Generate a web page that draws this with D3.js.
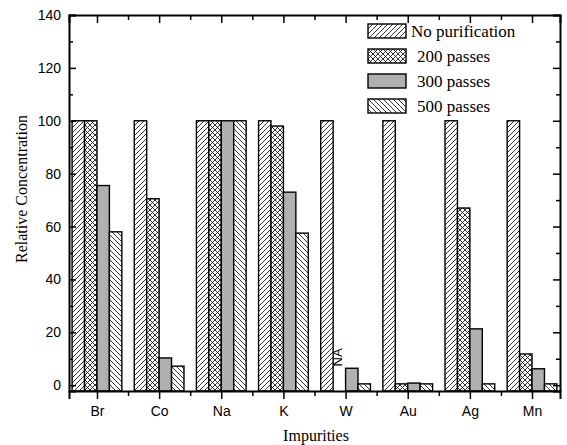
<!DOCTYPE html>
<html>
<head>
<meta charset="utf-8">
<script src="https://cdn.jsdelivr.net/npm/d3@7"></script>
<style>
  body { margin: 0; background: #fff; }
  svg { display: block; }
</style>
</head>
<body>
<div id="chart-container"></div>
<script>
const categories = ['Br', 'Co', 'Na', 'K', 'W', 'Au', 'Ag', 'Mn']
const seriesNames = ['No purification', '200 passes', '300 passes', '500 passes']
const noPurification = [100, 100, 100, 100, 100, 100, 100, 100]
const passes200 = [100, 70.5, 100, 98, null, 0.5, 67, 11.8]
const passes300 = [75.5, 10.3, 100, 73, 6.4, 0.8, 21.3, 6.2]
const passes500 = [58, 7.2, 100, 57.5, 0.5, 0.5, 0.5, 0.5]
const yTicks = [0, 20, 40, 60, 80, 100, 120, 140]
const naLabel = 'NA'

const width = 567
const height = 445
const plot = { left: 69, right: 560, top: 15, bottom: 391 }

const series = [noPurification, passes200, passes300, passes500]
const fills = ['url(#hatch-up)', 'url(#cross)', '#b0b0b0', 'url(#hatch-down)']

const svg = d3
  .select('#chart-container')
  .append('svg')
  .attr('width', width)
  .attr('height', height)

// patterns
const defs = svg.append('defs')
const up = defs
  .append('pattern')
  .attr('id', 'hatch-up')
  .attr('patternUnits', 'userSpaceOnUse')
  .attr('width', 5)
  .attr('height', 5)
up.append('rect').attr('width', 5).attr('height', 5).attr('fill', '#fff')
up.append('path')
  .attr('d', 'M-1,6 L6,-1 M-1,1 L1,-1 M4,6 L6,4')
  .attr('stroke', '#000')
  .attr('stroke-width', 0.8)

const down = defs
  .append('pattern')
  .attr('id', 'hatch-down')
  .attr('patternUnits', 'userSpaceOnUse')
  .attr('width', 5)
  .attr('height', 5)
down.append('rect').attr('width', 5).attr('height', 5).attr('fill', '#fff')
down.append('path')
  .attr('d', 'M-1,-1 L6,6 M4,-1 L6,1 M-1,4 L1,6')
  .attr('stroke', '#000')
  .attr('stroke-width', 0.8)

const cross = defs
  .append('pattern')
  .attr('id', 'cross')
  .attr('patternUnits', 'userSpaceOnUse')
  .attr('width', 5)
  .attr('height', 5)
cross.append('rect').attr('width', 5).attr('height', 5).attr('fill', '#fff')
cross.append('path')
  .attr('d', 'M-1,6 L6,-1 M-1,1 L1,-1 M4,6 L6,4 M-1,-1 L6,6 M4,-1 L6,1 M-1,4 L1,6')
  .attr('stroke', '#000')
  .attr('stroke-width', 0.8)

const x = d3
  .scaleLinear()
  .domain([0.55, categories.length + 0.45])
  .range([plot.left, plot.right])

const y = d3
  .scaleLinear()
  .domain([-2.2, 140])
  .range([plot.bottom, plot.top])

const barW = x(1.2) - x(1)

// bars
const groups = svg
  .append('g')
  .selectAll('g')
  .data(series)
  .join('g')
  .attr('fill', (d, i) => fills[i])
  .attr('stroke', '#000')
  .attr('stroke-width', 1.4)

groups
  .selectAll('rect')
  .data((d, si) => d.map((v, ci) => ({ v, ci, si })).filter(d => d.v !== null))
  .join('rect')
  .attr('x', d => x(d.ci + 1) + (d.si - 2) * barW)
  .attr('width', barW)
  .attr('y', d => y(d.v))
  .attr('height', d => y.range()[0] - y(d.v))

const font = '"Liberation Sans", Arial, sans-serif'
const serif = '"Liberation Serif", "Times New Roman", serif'

// NA label for the missing W value
svg
  .append('text')
  .attr('transform', `translate(${x(5) - 0.5 * barW + 3}, ${y(10.5)}) rotate(-90)`)
  .attr('text-anchor', 'middle')
  .attr('font-family', font)
  .attr('font-size', 13)
  .text(naLabel)

// axes
const minorY = d3.range(10, 140, 20)
const minorX = d3.range(1.5, categories.length, 1)

const axisL = svg.append('g').attr('transform', `translate(${plot.left},0)`)
axisL.call(d3.axisLeft(y).tickValues(yTicks).tickSize(-7).tickPadding(8))
axisL.append('g').attr('class', 'minor').call(d3.axisLeft(y).tickValues(minorY).tickSize(-4).tickFormat(''))

const axisR = svg.append('g').attr('transform', `translate(${plot.right},0)`)
axisR.call(d3.axisRight(y).tickValues(yTicks).tickSize(-7).tickFormat(''))
axisR.append('g').attr('class', 'minor').call(d3.axisRight(y).tickValues(minorY).tickSize(-4).tickFormat(''))

const axisB = svg.append('g').attr('transform', `translate(0,${plot.bottom})`)
axisB.call(
  d3
    .axisBottom(x)
    .tickValues(d3.range(1, categories.length + 1))
    .tickSize(8)
    .tickPadding(7)
    .tickFormat(d => categories[d - 1])
)
axisB.append('g').attr('class', 'minor').call(d3.axisBottom(x).tickValues(minorX).tickSize(5).tickFormat(''))

const axisT = svg.append('g').attr('transform', `translate(0,${plot.top})`)
axisT.call(d3.axisTop(x).tickValues(d3.range(1, categories.length + 1)).tickSize(-8).tickFormat(''))
axisT.append('g').attr('class', 'minor').call(d3.axisTop(x).tickValues(minorX).tickSize(-5).tickFormat(''))

svg.selectAll('.minor .domain').remove()
svg.selectAll('.domain').attr('stroke', '#000').attr('stroke-width', 2)
svg.selectAll('.tick line').attr('stroke', '#000').attr('stroke-width', 1.5)
svg.selectAll('.tick text').attr('font-family', font).attr('font-size', 14).attr('fill', '#000')

// axis titles
svg
  .append('text')
  .attr('x', 316)
  .attr('y', 441)
  .attr('text-anchor', 'middle')
  .attr('font-family', serif)
  .attr('font-size', 16)
  .text('Impurities')

svg
  .append('text')
  .attr('transform', `translate(27, 189) rotate(-90)`)
  .attr('text-anchor', 'middle')
  .attr('font-family', serif)
  .attr('font-size', 16)
  .text('Relative Concentration')

// legend
const legend = svg
  .append('g')
  .selectAll('g')
  .data(seriesNames)
  .join('g')
  .attr('transform', (d, i) => `translate(368, ${24 + i * 25})`)

legend
  .append('rect')
  .attr('width', 38)
  .attr('height', 14)
  .attr('fill', (d, i) => fills[i])
  .attr('stroke', '#000')
  .attr('stroke-width', 1.4)

legend
  .append('text')
  .attr('x', (d, i) => (i === 0 ? 43 : 49))
  .attr('y', 13)
  .attr('font-family', serif)
  .attr('font-size', 17)
  .text(d => d)
</script>
</body>
</html>
